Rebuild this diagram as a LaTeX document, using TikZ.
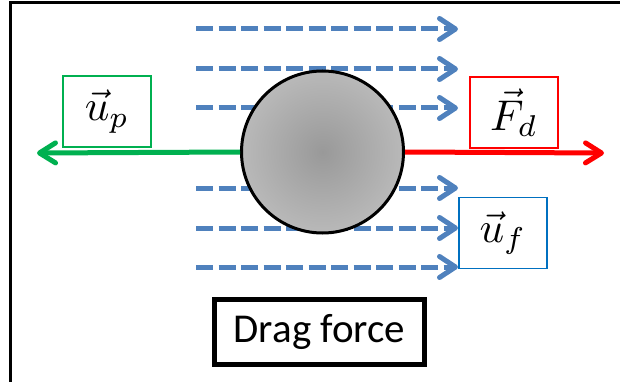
\documentclass[tikz,border=0pt]{standalone}
\usepackage{graphicx}
\usepackage{fontspec}
\newfontfamily\calibri{Carlito}
\usetikzlibrary{arrows.meta}
\definecolor{flowblue}{RGB}{79,129,189}
\definecolor{pgreen}{RGB}{0,176,80}
\definecolor{boxblue}{RGB}{0,112,192}
\pgfdeclareradialshading{particleshade}{\pgfpointorigin}{color(0bp)=(gray!80); color(30bp)=(gray!50); color(50bp)=(gray!28)}
\newcommand{\vlabel}[1]{\scalebox{4.3}{$#1$}}
\tikzset{
  flow/.style={flowblue, line width=5pt, dash pattern=on 17pt off 5.5pt,
    -{Straight Barb[round, length=16pt, width=21pt]}},
  force/.style={line width=5pt, -{Straight Barb[round, length=16pt, width=20pt]}},
  vecbox/.style={draw, line width=1.5pt, minimum width=88pt, minimum height=71pt,
    inner sep=0pt}
}
\begin{document}
\begin{tikzpicture} [x=1pt, y=-1pt]
	\useasboundingbox (0,0) rectangle (620,382);
	\draw [line width=3pt] (630,3) -- (10,3) -- (10,392);
	% fluid flow
	\foreach \y in {29, 69, 108, 188, 228, 267} {
		\coordinate (fs\y) at (196,\y);
		\coordinate (fe\y) at (458,\y);
		\draw [flow] (fs\y) -- (fe\y);
	}
	% particle
	\draw (322.5,152) node (particle) [circle, draw, line width=3pt, minimum size=162pt, shading=particleshade] {};
	\coordinate (upend) at (37,153);
	\coordinate (fdend) at (604,153);
	\draw [force, pgreen] (particle.west) -- (upend);
	\draw [force, red] (particle.east) -- (fdend);
	% labels
	\draw (107,111.5) node (up) [vecbox, draw=pgreen] {\vlabel{\vec{u}_p}};
	\draw (514,112.5) node (fd) [vecbox, draw=red] {\vlabel{\vec{F}_d}};
	\draw (503,233) node (uf) [vecbox, draw=boxblue] {\vlabel{\vec{u}_f}};
	\draw (319.5,332) node (drag) [draw, line width=4.5pt, minimum width=210pt, minimum height=65pt, inner sep=0pt, font=\calibri\fontsize{41}{49}\selectfont] {Drag force};
\end{tikzpicture}
\end{document}
